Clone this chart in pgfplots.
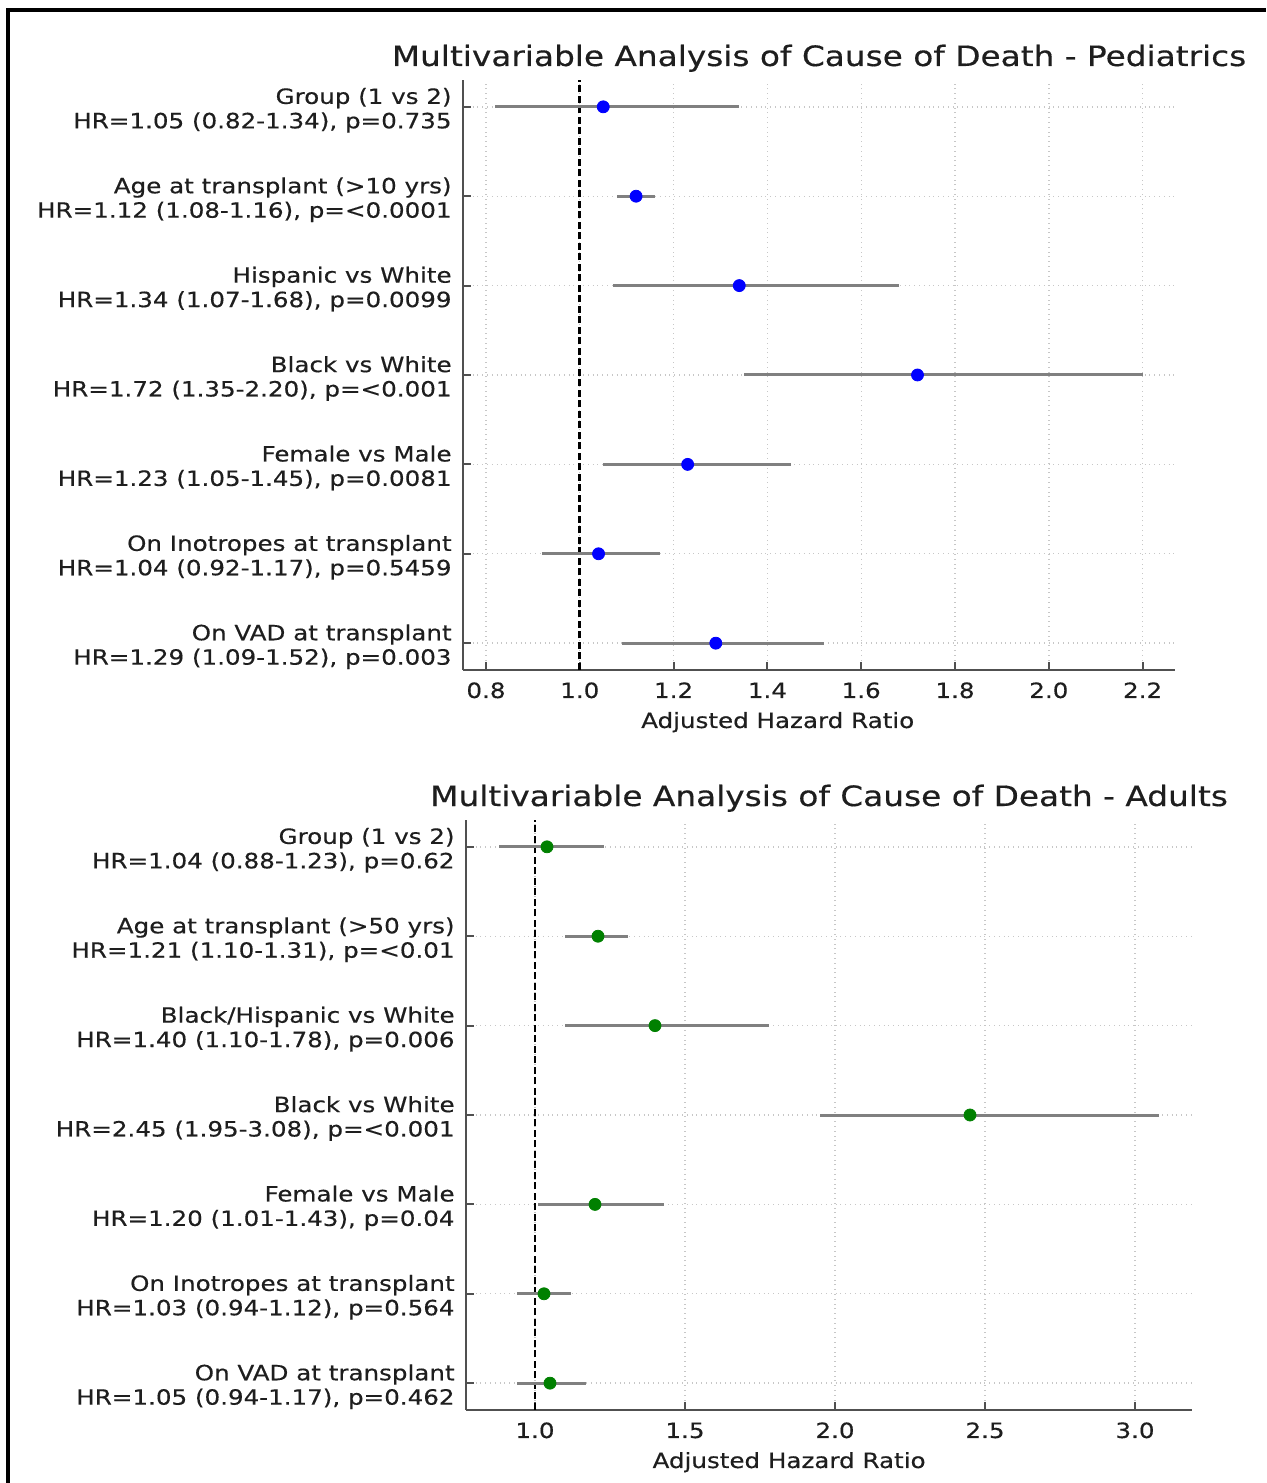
\documentclass[border=0pt]{standalone}
\usepackage{fontspec}
\setmainfont{DejaVu Sans}[FakeStretch=1.17, FakeBold=0.4]
\usepackage{pgfplots}
\usepackage{pgfplotstable}
\pgfplotsset{compat=1.18}
\definecolor{txt}{HTML}{1E1E1E}
\definecolor{spine}{HTML}{505050}
\definecolor{ci}{HTML}{808080}
\definecolor{mblue}{HTML}{0000FF}
\definecolor{mgreen}{HTML}{008000}

\pgfplotstableread{
y hr lo hi
6 1.05 0.82 1.34
5 1.12 1.08 1.16
4 1.34 1.07 1.68
3 1.72 1.35 2.20
2 1.23 1.05 1.45
1 1.04 0.92 1.17
0 1.29 1.09 1.52
}\ped

\pgfplotstableread{
y hr lo hi
6 1.04 0.88 1.23
5 1.21 1.10 1.31
4 1.40 1.10 1.78
3 2.45 1.95 3.08
2 1.20 1.01 1.43
1 1.03 0.94 1.12
0 1.05 0.94 1.17
}\adu

\pgfplotsset{
 forest/.style={
  scale only axis,
  height=295pt,
  ymin=-0.3, ymax=6.3,
  ytick={0,...,6},
  axis x line*=bottom, axis y line*=left,
  axis line style={-, spine, line width=1.3pt},
  tick style={spine, line width=1pt},
  tick align=inside,
  major tick length=4pt,
  grid=major,
  major grid style={dotted, black!22, line width=0.7pt},
  font=\fontsize{10.5pt}{12.2pt}\selectfont,
  every tick label/.append style={txt},
  yticklabel style={align=right, anchor=east, inner sep=0pt, xshift=-5.5pt, yshift=-1.75pt},
  xticklabel style={anchor=base, inner sep=0pt, yshift=-14pt},
  title style={font=\fontsize{14pt}{17pt}\selectfont, text=txt, at={(0.5,1)}, anchor=base, yshift=1pt, inner sep=0pt},
  xlabel style={text=txt, anchor=base, yshift=-29pt, inner sep=0pt},
 },
}

\begin{document}
\begin{tikzpicture}
\useasboundingbox (0,0) rectangle (633pt,741.5pt);
\draw[line width=1.8pt, black] (4pt,0) -- (4pt,736.5pt) -- (633pt,736.5pt);

\begin{axis}[forest,
  at={(231.5pt,406.5pt)}, anchor=south west,
  width=356pt,
  xmin=0.751, xmax=2.269,
  xtick={0.8,1.0,1.2,1.4,1.6,1.8,2.0,2.2},
  xticklabels={0.8,1.0,1.2,1.4,1.6,1.8,2.0,2.2},
  yticklabels={
    {On VAD at transplant\\HR=1.29 (1.09-1.52), p=0.003},
    {On Inotropes at transplant\\HR=1.04 (0.92-1.17), p=0.5459},
    {Female vs Male\\HR=1.23 (1.05-1.45), p=0.0081},
    {Black vs White\\HR=1.72 (1.35-2.20), p=<0.001},
    {Hispanic vs White\\HR=1.34 (1.07-1.68), p=0.0099},
    {Age at transplant (>10 yrs)\\HR=1.12 (1.08-1.16), p=<0.0001},
    {Group (1 vs 2)\\HR=1.05 (0.82-1.34), p=0.735}},
  title={Multivariable Analysis of Cause of Death - Pediatrics},
  xlabel={Adjusted Hazard Ratio},
  xlabel style={at={(0.442,0)}},
]
\addplot[black, line width=1.4pt, dash pattern=on 3.5pt off 1.75pt] coordinates {(1,-0.3) (1,6.3)};
\addplot[only marks, mark=*, mark size=3pt, mark options={fill=mblue, draw=mblue},
  error bars/.cd, x dir=both, x explicit, error mark=none,
  error bar style={ci, line width=1.5pt}]
  table[x=hr, y=y, x error plus expr=\thisrow{hi}-\thisrow{hr}, x error minus expr=\thisrow{hr}-\thisrow{lo}] {\ped};
\end{axis}

\begin{axis}[forest,
  at={(233pt,36.5pt)}, anchor=south west,
  width=363pt,
  xmin=0.77, xmax=3.19,
  xtick={1.0,1.5,2.0,2.5,3.0},
  xticklabels={1.0,1.5,2.0,2.5,3.0},
  yticklabels={
    {On VAD at transplant\\HR=1.05 (0.94-1.17), p=0.462},
    {On Inotropes at transplant\\HR=1.03 (0.94-1.12), p=0.564},
    {Female vs Male\\HR=1.20 (1.01-1.43), p=0.04},
    {Black vs White\\HR=2.45 (1.95-3.08), p=<0.001},
    {Black/Hispanic vs White\\HR=1.40 (1.10-1.78), p=0.006},
    {Age at transplant (>50 yrs)\\HR=1.21 (1.10-1.31), p=<0.01},
    {Group (1 vs 2)\\HR=1.04 (0.88-1.23), p=0.62}},
  title={Multivariable Analysis of Cause of Death - Adults},
  xlabel={Adjusted Hazard Ratio},
  xlabel style={at={(0.445,0)}},
]
\addplot[black, line width=1.4pt, dash pattern=on 3.5pt off 1.75pt] coordinates {(1,-0.3) (1,6.3)};
\addplot[only marks, mark=*, mark size=3pt, mark options={fill=mgreen, draw=mgreen},
  error bars/.cd, x dir=both, x explicit, error mark=none,
  error bar style={ci, line width=1.5pt}]
  table[x=hr, y=y, x error plus expr=\thisrow{hi}-\thisrow{hr}, x error minus expr=\thisrow{hr}-\thisrow{lo}] {\adu};
\end{axis}
\end{tikzpicture}
\end{document}
